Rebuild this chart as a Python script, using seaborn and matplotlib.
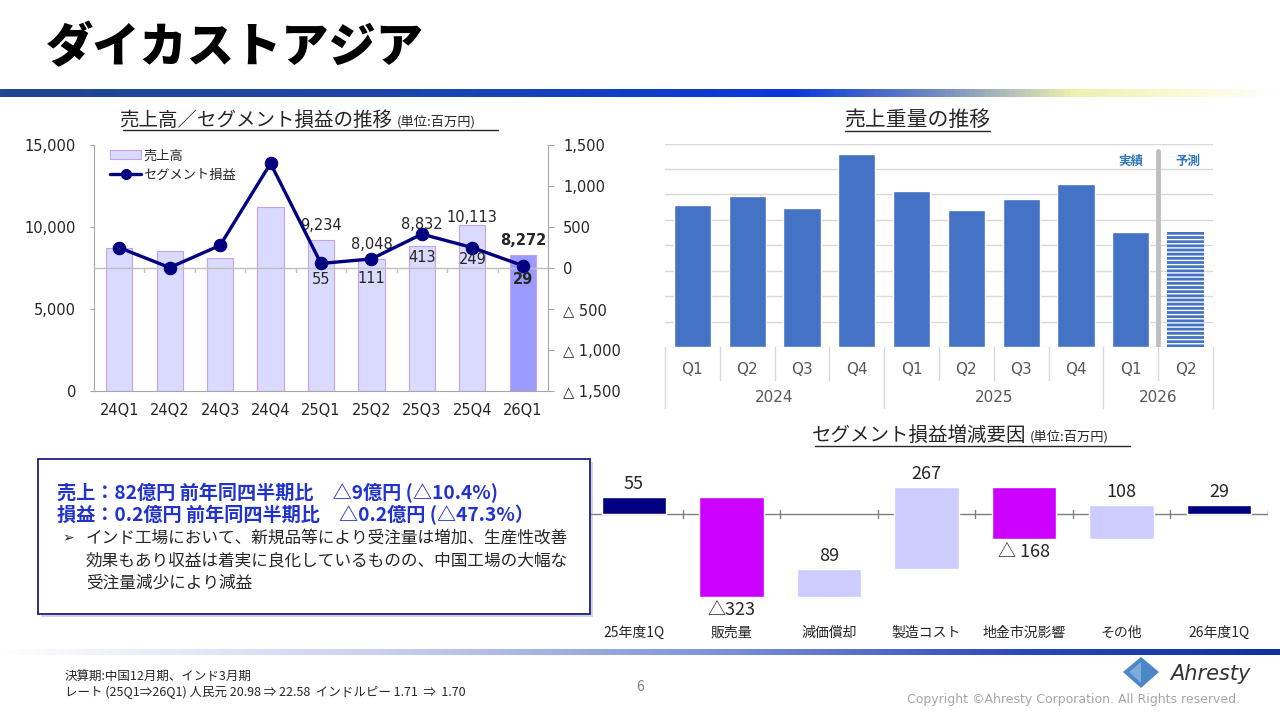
import numpy as np
import pandas as pd
import seaborn as sns
import matplotlib.pyplot as plt
from matplotlib.colors import LinearSegmentedColormap
from matplotlib.patches import Rectangle, Patch, Polygon
from matplotlib.lines import Line2D

# --- data ---
quarters = ['24Q1', '24Q2', '24Q3', '24Q4', '25Q1', '25Q2', '25Q3', '25Q4', '26Q1']
sales = [8720, 8540, 8100, 11230, 9234, 8048, 8832, 10113, 8272]
segment_profit = [248, 5, 276, 1276, 55, 111, 413, 249, 29]
labeled_from = 4  # values are printed only from 25Q1 on

weight_quarters = ['Q1', 'Q2', 'Q3', 'Q4', 'Q1', 'Q2', 'Q3', 'Q4', 'Q1', 'Q2']
weight_years = ['2024'] * 4 + ['2025'] * 4 + ['2026'] * 2
weight_values = [5.59, 5.92, 5.46, 7.57, 6.15, 5.38, 5.81, 6.41, 4.54, 4.52]
weight_forecast = [False] * 9 + [True]

bridge_items = ['25年度1Q', '販売量', '減価償却', '製造コスト', '地金市況影響', 'その他', '26年度1Q']
bridge_start = 55
bridge_deltas = [-323, 89, 267, -168, 108]
bridge_end = 29
bridge_labels = ['55', '△323', '89', '267', '△ 168', '108', '29']

# --- style ---
sns.set_style('white')
plt.rcParams['font.family'] = ['Noto Sans CJK JP', 'DejaVu Sans']
plt.rcParams['hatch.linewidth'] = 1.0

W, H = 1280, 720
fig = plt.figure(figsize=(12.8, 7.2), dpi=100)


def box(x0, y0, x1, y1):
    return [x0 / W, 1 - y1 / H, (x1 - x0) / W, (y1 - y0) / H]


def ftext(x, y, s, **kw):
    return fig.text(x / W, 1 - y / H, s, **kw)


def fline(x0, x1, y0, y1, **kw):
    fig.add_artist(Line2D([x0 / W, x1 / W], [1 - y0 / H, 1 - y1 / H], **kw))


def neg_fmt(v):
    return f'△ {abs(v):,.0f}' if v < 0 else f'{v:,.0f}'


GRAY = '#A6A6A6'
TXT = '#262626'
NAVY = '#000080'

# header
ftext(46, 48, 'ダイカストアジア', fontsize=34, weight='black', color='black', va='center')
hdr = LinearSegmentedColormap.from_list('hdr', [(0, '#1f4690'), (0.35, '#1a44b0'), (0.62, '#0a38d8'),
                                                 (0.74, '#7890c0'), (0.84, '#eef0b0'), (0.93, '#fbfbd8'),
                                                 (1, '#ffffff')])
ax_h = fig.add_axes(box(0, 89, 1280, 97))
ax_h.imshow(np.linspace(0, 1, 512)[None, :], aspect='auto', cmap=hdr)
ax_h.axis('off')

# ---------- sales / segment profit ----------
ax1 = fig.add_axes(box(94, 145, 548, 391))
df1 = pd.DataFrame({'quarter': quarters, 'sales': sales})
bar_colors = ['#DADAFF'] * (len(quarters) - 1) + ['#9B9BFF']
sns.barplot(data=df1, x='quarter', y='sales', hue='quarter', palette=bar_colors, legend=False,
            width=0.52, saturation=1, edgecolor='#C8A2E8', linewidth=0.8, ax=ax1)
ax1.set_xlim(-0.5, len(quarters) - 0.5)
ax1.set_ylim(0, 15000)
yt = [0, 5000, 10000, 15000]
ax1.set_yticks(yt, [f'{v:,}' for v in yt], fontsize=10.5, fontfamily='DejaVu Sans', color=TXT)
ax1.set_xticks(range(len(quarters)), quarters, fontsize=10.5, fontfamily='DejaVu Sans', color=TXT)
ax1.tick_params(axis='y', length=3, color=GRAY, pad=10)
ax1.tick_params(axis='x', length=0, pad=9)
ax1.set_xlabel('')
ax1.set_ylabel('')
for s in ['top', 'right']:
    ax1.spines[s].set_visible(False)
for s in ['left', 'bottom']:
    ax1.spines[s].set_color(GRAY)

ax2 = ax1.twinx()
sns.lineplot(x=np.arange(len(quarters)), y=segment_profit, color=NAVY, lw=2.4, marker='o',
             markersize=9, markeredgecolor=NAVY, ax=ax2)
ax2.set_ylim(-1500, 1500)
ax2.set_xlim(-0.5, len(quarters) - 0.5)
yt2 = np.arange(-1500, 1501, 500)
ax2.set_yticks(yt2, [neg_fmt(v) for v in yt2], fontsize=10.5, fontfamily='DejaVu Sans', color=TXT)
ax2.tick_params(axis='y', length=4, color=GRAY, pad=7)
ax2.set_ylabel('')
for s in ['top', 'left', 'bottom']:
    ax2.spines[s].set_visible(False)
ax2.spines['right'].set_color(GRAY)
ax2.axhline(0, color='#BFBFBF', lw=1, zorder=0)
for b in np.arange(0.5, len(quarters) - 0.5):
    ax2.plot([b, b], [0, -45], color='#BFBFBF', lw=1, zorder=0)

sales_lift = [14, 15, 22, 8, 15]
profit_drop = [16, 20, 23, 12, 14]
for k, i in enumerate(range(labeled_from, len(quarters))):
    last = i == len(quarters) - 1
    ax1.annotate(f'{sales[i]:,}', (i, sales[i]), xytext=(0, sales_lift[k] * 0.72),
                 textcoords='offset points', ha='center', va='center', fontsize=10.5,
                 fontfamily='DejaVu Sans', color=TXT, weight='bold' if last else 'normal')
    ax2.annotate(f'{segment_profit[i]:,}', (i, segment_profit[i]), xytext=(0, -profit_drop[k] * 0.72),
                 textcoords='offset points', ha='center', va='center', fontsize=10.5,
                 fontfamily='DejaVu Sans', color=TXT, weight='bold' if last else 'normal')

handles = [Patch(facecolor='#DADAFF', edgecolor='#C8A2E8', lw=0.8),
           Line2D([], [], color=NAVY, lw=2.4, marker='o', markersize=7)]
ax2.legend(handles, ['売上高', 'セグメント損益'], loc='upper left', bbox_to_anchor=(0.01, 1.03),
           frameon=False, fontsize=9.5, handlelength=2.3, handletextpad=0.2, labelspacing=0.5)

ftext(392, 120, '売上高／セグメント損益の推移', ha='right', va='center', fontsize=14, color=TXT)
ftext(397, 122, '(単位:百万円)', ha='left', va='center', fontsize=9.5, color=TXT)
fline(123, 498, 129.5, 129.5, color=TXT, lw=1)

# ---------- sales weight ----------
ax3 = fig.add_axes(box(665, 143.5, 1213, 347))
df3 = pd.DataFrame({'period': [y + q for y, q in zip(weight_years, weight_quarters)],
                    'weight': weight_values})
sns.barplot(data=df3, x='period', y='weight', color='#4472C4', saturation=1, width=0.68, ax=ax3)
for patch, fc in zip(ax3.patches, weight_forecast):
    if fc:
        patch.set_hatch('----')
        patch.set_edgecolor('white')
        patch.set_linewidth(0)
ax3.set_ylim(0, 8)
ax3.set_xlim(-0.5, len(weight_values) - 0.5)
ax3.set_yticks(range(9))
ax3.set_yticklabels([])
ax3.tick_params(axis='y', length=0)
ax3.yaxis.grid(True, color='#D9D9D9', lw=1)
ax3.set_axisbelow(True)
for s in ax3.spines.values():
    s.set_visible(False)
ax3.set_xticks(range(len(weight_quarters)), weight_quarters, fontsize=11, color='#595959',
               fontfamily='DejaVu Sans')
ax3.tick_params(axis='x', length=0, pad=11)
ax3.set_xlabel('')
ax3.set_ylabel('')
xt = ax3.get_xaxis_transform()
for yr in dict.fromkeys(weight_years):
    idx = [i for i, y in enumerate(weight_years) if y == yr]
    ax3.text(np.mean(idx), -0.25, yr, transform=xt, ha='center', va='center', fontsize=11,
             color='#595959', fontfamily='DejaVu Sans')
for i in range(len(weight_years) + 1):
    long = i == 0 or i == len(weight_years) or weight_years[i] != weight_years[i - 1]
    ax3.plot([i - 0.5, i - 0.5], [0, -0.30 if long else -0.16], transform=xt, clip_on=False,
             color='#D9D9D9', lw=1)
split = weight_forecast.index(True) - 0.5
ax3.plot([split, split], [0, 7.7], color='#BFBFBF', lw=3.5, zorder=3)
ax3.text(split - 0.5, 7.3, '実績', ha='center', va='center', fontsize=9, weight='bold', color='#2E75B6')
ax3.text(split + 0.55, 7.3, '予測', ha='center', va='center', fontsize=9, weight='bold', color='#2E75B6')

ftext(917, 120, '売上重量の推移', ha='center', va='center', fontsize=15, color=TXT)
fline(845, 990, 131, 131, color=TXT, lw=1)

# ---------- profit bridge ----------
ax4 = fig.add_axes(box(585, 460, 1268, 620))
running = bridge_start
bottoms, heights, kinds = [0], [bridge_start], ['total']
for d in bridge_deltas:
    new = running + d
    bottoms.append(min(running, new))
    heights.append(abs(d))
    kinds.append('up' if d > 0 else 'down')
    running = new
bottoms.append(0)
heights.append(bridge_end)
kinds.append('total')
kind_color = {'total': NAVY, 'up': '#CCCCFF', 'down': '#CC00FF'}
xs = np.arange(len(bridge_items))
ax4.bar(xs, heights, bottom=bottoms, width=0.66, color=[kind_color[k] for k in kinds], zorder=2)
ax4.axhline(0, color='#7F7F7F', lw=1, zorder=1)
for b in np.arange(0.5, len(bridge_items)):
    ax4.plot([b, b], [-12, 12], color='#7F7F7F', lw=1, zorder=1)
for x, b, h, k, lab in zip(xs, bottoms, heights, kinds, bridge_labels):
    if k == 'down':
        ax4.annotate(lab, (x, b), xytext=(0, -3), textcoords='offset points', ha='center', va='top',
                     fontsize=13, color=TXT)
    else:
        ax4.annotate(lab, (x, b + h), xytext=(0, 3), textcoords='offset points', ha='center',
                     va='bottom', fontsize=13, color=TXT)
ax4.set_xlim(-0.5, len(bridge_items) - 0.5)
ax4.set_ylim(-342, 174)
ax4.set_yticks([])
ax4.set_xticks(xs, bridge_items, fontsize=10, color=TXT)
ax4.tick_params(axis='x', length=0, pad=4)
for s in ax4.spines.values():
    s.set_visible(False)

ftext(1026, 435, 'セグメント損益増減要因', ha='right', va='center', fontsize=14, color=TXT)
ftext(1030, 437, '(単位:百万円)', ha='left', va='center', fontsize=9.5, color=TXT)
fline(815, 1130, 446, 446, color=TXT, lw=1)

# ---------- comment box ----------
fig.add_artist(Rectangle((41 / W, 1 - 617 / H), 552 / W, 155 / H, transform=fig.transFigure,
                         facecolor='#8080C0', edgecolor='none', alpha=0.35, zorder=5))
fig.add_artist(Rectangle((38 / W, 1 - 614 / H), 552 / W, 155 / H, transform=fig.transFigure,
                         facecolor='white', edgecolor='#1F1F7F', lw=1.3, zorder=6))
blue = '#2233CC'
ftext(57, 493, '売上：82億円 前年同四半期比　△9億円 (△10.4%)', fontsize=13.8, weight='bold',
      color=blue, va='center', zorder=7)
ftext(57, 515, '損益：0.2億円 前年同四半期比　△0.2億円 (△47.3%）', fontsize=13.8, weight='bold',
      color=blue, va='center', zorder=7)
ftext(62, 538, '➢', fontsize=10, family=['DejaVu Sans'], color=TXT, va='center', zorder=7)
body = ['インド工場において、新規品等により受注量は増加、生産性改善',
        '効果もあり収益は着実に良化しているものの、中国工場の大幅な',
        '受注量減少により減益']
for k, line in enumerate(body):
    ftext(86, 538 + 22.5 * k, line, fontsize=12, color=TXT, va='center', zorder=7)

# ---------- footer ----------
ftr = LinearSegmentedColormap.from_list('ftr', [(0, '#ffffff'), (0.3, '#c8d0f0'), (0.55, '#8095d8'),
                                                 (0.8, '#2a48b8'), (1, '#10309a')])
ax_f = fig.add_axes(box(0, 649, 1280, 655))
ax_f.imshow(np.linspace(0, 1, 512)[None, :], aspect='auto', cmap=ftr)
ax_f.axis('off')

ftext(65, 676, '決算期:中国12月期、インド3月期', fontsize=9, color=TXT, va='center')
ftext(65, 692, 'レート (25Q1⇒26Q1) 人民元 20.98 ⇒ 22.58  インドルピー 1.71  ⇒  1.70', fontsize=9,
      color=TXT, va='center')
ftext(640, 687, '6', fontsize=10, color='#808080', ha='center', va='center')

fig.add_artist(Polygon([(1123 / W, 1 - 672 / H), (1141 / W, 1 - 657 / H), (1159 / W, 1 - 672 / H),
                        (1141 / W, 1 - 688 / H)], closed=True, transform=fig.transFigure,
                       facecolor='#4A86C8', edgecolor='none'))
fig.add_artist(Polygon([(1129 / W, 1 - 672 / H), (1141 / W, 1 - 662 / H), (1141 / W, 1 - 683 / H)],
                       closed=True, transform=fig.transFigure, facecolor='#7FA9DA', edgecolor='none'))
ftext(1170, 674, 'Ahresty', fontsize=15, style='italic', color='#333333', va='center',
      family=['DejaVu Sans'])
ftext(1240, 699, 'Copyright ©Ahresty Corporation. All Rights reserved.', fontsize=9, color='#A6A6A6',
      ha='right', va='center', family=['DejaVu Sans'])

fig.savefig('out.png', dpi=100, facecolor='white')
